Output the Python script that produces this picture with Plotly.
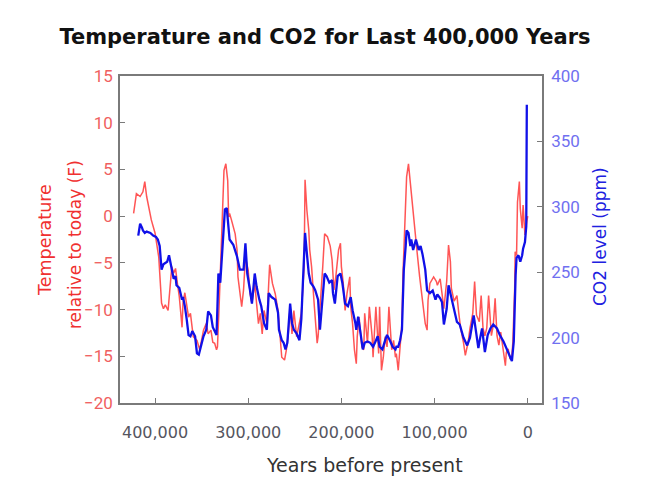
import plotly.graph_objects as go

# Temperature (relative to today, deg F) vs years before present (thousands)
temp_years_k = [423, 420, 416, 413, 411, 409, 404, 400, 396, 393, 391, 389, 386, 384, 382, 380, 378, 376, 374, 371,
                370, 368, 364, 362, 359, 355, 352, 348, 345, 343, 340, 338, 336, 334, 333, 331, 330, 328, 326, 324,
                322, 321, 320, 318, 314, 312, 311, 307, 305, 303, 300, 298, 296, 293, 291, 289, 287, 285, 283, 280,
                278, 277, 274, 271, 268, 266, 264, 261, 259, 257, 255, 253, 251, 248, 245, 243, 240, 239, 237, 235,
                234, 232, 229, 226, 225, 223, 220, 218, 215, 212, 210, 208, 206, 203, 201, 200, 198, 196, 194, 191,
                190, 188, 186, 184, 183, 181, 178, 176, 175, 172, 170, 167, 166, 163, 160, 159, 157, 155, 153, 151,
                149, 146, 144, 142, 141, 139, 137, 135, 134, 132, 130, 128, 126, 125, 123, 121, 119, 116, 114, 112,
                110, 108, 107, 105, 101, 98, 97, 94, 92, 90, 87, 85, 83, 82, 79, 76, 74, 72, 69, 67,
                64, 62, 59, 57, 55, 52, 50, 48, 46, 44, 42, 39, 37, 35, 33, 31, 29, 26, 24, 23,
                21, 19, 17, 16, 14, 13.5, 12, 11, 9, 8, 6, 5, 3, 1, 0]
temp_values = [0.3, 2.4, 2.1, 2.6, 3.7, 2.1, -0.4, -1.8, -4.4, -9.3, -9.9, -9.5, -10.1, -7.2, -5.4, -6.1, -5.6, -7.2, -8.6, -11.9,
               -9.3, -8.2, -10.8, -10.4, -12.9, -13.3, -14.3, -12.2, -11.5, -12.6, -12.2, -13.5, -13.6, -14.3, -14.0, -9.0, -6.1, -0.1, 4.9, 5.6,
               3.8, -0.1, 0.3, -0.4, -1.9, -3.6, -6.5, -9.7, -7.9, -4.4, -5.8, -8.3, -9.3, -7.2, -9.0, -11.5, -10.4, -12.6, -10.1, -11.5,
               -7.2, -5.2, -7.2, -8.3, -10.1, -12.6, -15.1, -15.4, -14.3, -12.6, -9.7, -12.6, -10.1, -12.9, -11.5, -10.4, -5.4, 3.9, 0.6, -1.5,
               -3.6, -5.4, -9.7, -13.6, -12.9, -10.1, -5.4, -1.9, -2.2, -3.2, -4.7, -7.9, -6.5, -3.6, -2.9, -5.4, -7.2, -10.1, -8.3, -6.5,
               -9.7, -11.5, -14.3, -15.8, -12.9, -10.8, -14.0, -14.3, -10.4, -13.6, -9.7, -12.9, -15.1, -9.7, -14.7, -9.7, -16.5, -15.1, -12.9, -14.0,
               -9.7, -14.3, -13.3, -15.1, -14.7, -16.5, -14.0, -11.5, -6.5, -0.1, 4.2, 5.6, 3.5, 2.1, -0.1, -1.5, -3.6, -6.5, -8.3, -9.7,
               -11.5, -12.2, -9.0, -7.2, -6.5, -7.0, -7.4, -6.7, -8.5, -9.9, -7.0, -3.1, -4.9, -7.7, -9.1, -8.5, -10.4, -12.0, -13.5, -14.9,
               -13.5, -12.0, -10.4, -7.0, -10.6, -11.3, -8.5, -12.0, -12.8, -12.0, -8.5, -12.8, -11.7, -8.8, -12.8, -13.8, -12.4, -14.6, -16.0, -14.6,
               -14.2, -15.3, -14.9, -13.5, -7.7, -3.8, -4.2, 1.5, 3.7, 0.8, -1.3, 1.2, -2.0, -0.6, 0.0]

# CO2 (ppm) vs years before present (thousands)
co2_years_k = [418, 416, 414, 413, 411, 409, 405, 402, 399, 397, 395, 393, 391, 387, 385, 383, 380, 378, 377, 374,
               371, 370, 368, 366, 364, 362, 360, 357, 355, 353, 351, 348, 345, 343, 340, 338, 336, 334, 333, 332,
               330, 328, 327, 325, 323, 321, 320, 316, 312, 309, 305, 303, 301, 298, 296, 293, 291, 288, 286, 283,
               280, 278, 275, 271, 268, 267, 264, 262, 260, 258, 255, 253, 251, 248, 245, 243, 241, 239, 237, 235,
               233, 230, 228, 225, 223, 221, 218, 216, 213, 210, 209, 207, 204, 201, 199, 196, 193, 190, 188, 185,
               184, 182, 179, 177, 175, 172, 169, 166, 164, 161, 159, 156, 153, 151, 148, 145, 142, 141, 139, 137,
               135, 134, 133, 131, 130, 128, 126, 125, 123, 120, 117, 115, 113, 110, 108, 105, 102, 99, 97, 94,
               92, 90, 87, 85, 82, 79, 76, 73, 69, 65, 62, 58, 56, 53, 51, 49, 46, 43, 40, 37,
               33, 30, 26, 23, 19, 17, 15, 14, 13, 12, 10, 8, 6, 5, 3, 1.6, 1.0]
co2_values = [278, 287, 284, 282, 280, 281, 280, 278, 277, 275, 270, 252, 256, 258, 263, 256, 245, 247, 240, 238,
              229, 231, 224, 214, 202, 201, 205, 201, 188, 187, 193, 201, 206, 220, 217, 208, 205, 202, 224, 249,
              242, 262, 277, 298, 299, 283, 275, 271, 262, 252, 252, 272, 249, 236, 226, 249, 239, 229, 224, 211,
              206, 234, 231, 229, 219, 206, 198, 196, 191, 196, 226, 211, 206, 203, 198, 214, 254, 280, 264, 249,
              242, 239, 236, 229, 206, 221, 249, 247, 242, 244, 234, 226, 247, 249, 242, 226, 224, 231, 221, 211,
              206, 216, 201, 191, 196, 197, 196, 193, 196, 201, 193, 191, 198, 202, 198, 193, 191, 193, 193, 198,
              206, 229, 252, 270, 282, 280, 270, 275, 267, 275, 267, 270, 264, 252, 236, 234, 236, 229, 233, 230,
              227, 210, 222, 240, 230, 220, 212, 210, 200, 194, 200, 217, 207, 192, 200, 207, 189, 202, 207, 210,
              207, 202, 197, 192, 184, 182, 197, 227, 248, 261, 263, 258, 263, 268, 273, 285, 378]

temp_years = [v * 1000 for v in temp_years_k]
co2_years = [v * 1000 for v in co2_years_k]

x_tick_vals = [400000, 300000, 200000, 100000, 0]
x_tick_text = ["400,000", "300,000", "200,000", "100,000", "0"]
temp_ticks = [15, 10, 5, 0, -5, -10, -15, -20]
co2_ticks = [400, 350, 300, 250, 200, 150]

TICK_FONT = "Roboto"
TEXT_FONT = "DejaVu Sans"
AXIS_GREY = "#7a7a7a"

# page body has an 8px default margin; size the figure so it fills the window
OFF = 8
W, H = 650 - OFF, 485 - OFF
PL, PR, PT, PB = 120, 542, 76, 403  # plot-area box in window pixels

fig = go.Figure()
fig.add_trace(go.Scatter(
    x=temp_years, y=temp_values, mode="lines", name="Temperature",
    line=dict(color="rgba(255,20,20,0.72)", width=1.5), yaxis="y"))
fig.add_trace(go.Scatter(
    x=co2_years, y=co2_values, mode="lines", name="CO2",
    line=dict(color="#1010e8", width=2.3), yaxis="y2"))


def px_x(px):
    return (px - PL) / (PR - PL)


def px_y(py):
    return (PB - py) / (PB - PT)


fig.update_layout(
    width=W, height=H,
    paper_bgcolor="white", plot_bgcolor="white",
    margin=dict(l=PL - OFF, r=650 - PR, t=PT - OFF, b=485 - PB, pad=0),
    showlegend=False,
    title=dict(text="Temperature and CO2 for Last 400,000 Years",
               x=(325 - OFF) / W, xanchor="center", y=1 - (37 - OFF) / H, yanchor="middle",
               font=dict(family=TEXT_FONT, size=21, color="#111111", weight="bold")),
    xaxis=dict(range=[437600, -15300], tickvals=x_tick_vals, ticktext=x_tick_text,
               ticks="inside", ticklen=5, tickcolor=AXIS_GREY, tickwidth=1.2,
               showline=True, linecolor=AXIS_GREY, linewidth=1.5, mirror=True,
               showgrid=False, zeroline=False, ticklabelstandoff=14,
               tickfont=dict(family=TEXT_FONT, size=16, color="#555560")),
    yaxis=dict(range=[-20, 15], tickvals=temp_ticks,
               ticks="inside", ticklen=5, tickcolor=AXIS_GREY, tickwidth=1.2,
               showline=True, linecolor=AXIS_GREY, linewidth=1.5, mirror=True,
               showgrid=False, zeroline=False, ticklabelstandoff=2,
               tickfont=dict(family=TICK_FONT, size=17, color="#f06060")),
    yaxis2=dict(range=[150, 400], tickvals=co2_ticks, overlaying="y", side="right",
                ticks="inside", ticklen=5, tickcolor=AXIS_GREY, tickwidth=1.2,
                showline=True, linecolor=AXIS_GREY, linewidth=1.5,
                showgrid=False, zeroline=False, ticklabelstandoff=4,
                tickfont=dict(family=TICK_FONT, size=17, color="#7070f0")),
)

fig.add_annotation(text="Years before present", xref="paper", yref="paper",
                   x=px_x(364), y=px_y(465), xanchor="center", yanchor="middle",
                   showarrow=False, font=dict(family=TEXT_FONT, size=19, color="#333333"))
fig.add_annotation(text="Temperature", xref="paper", yref="paper",
                   x=px_x(45), y=px_y(240), xanchor="center", yanchor="middle",
                   textangle=-90, showarrow=False, font=dict(family=TEXT_FONT, size=17.5, color="#f03030"))
fig.add_annotation(text="relative to today (F)", xref="paper", yref="paper",
                   x=px_x(75), y=px_y(245), xanchor="center", yanchor="middle",
                   textangle=-90, showarrow=False, font=dict(family=TEXT_FONT, size=17, color="#f03030"))
fig.add_annotation(text="CO2 level (ppm)", xref="paper", yref="paper",
                   x=px_x(600), y=px_y(237), xanchor="center", yanchor="middle",
                   textangle=-90, showarrow=False, font=dict(family=TEXT_FONT, size=17, color="#2020e0"))

fig.write_html("out.html")
